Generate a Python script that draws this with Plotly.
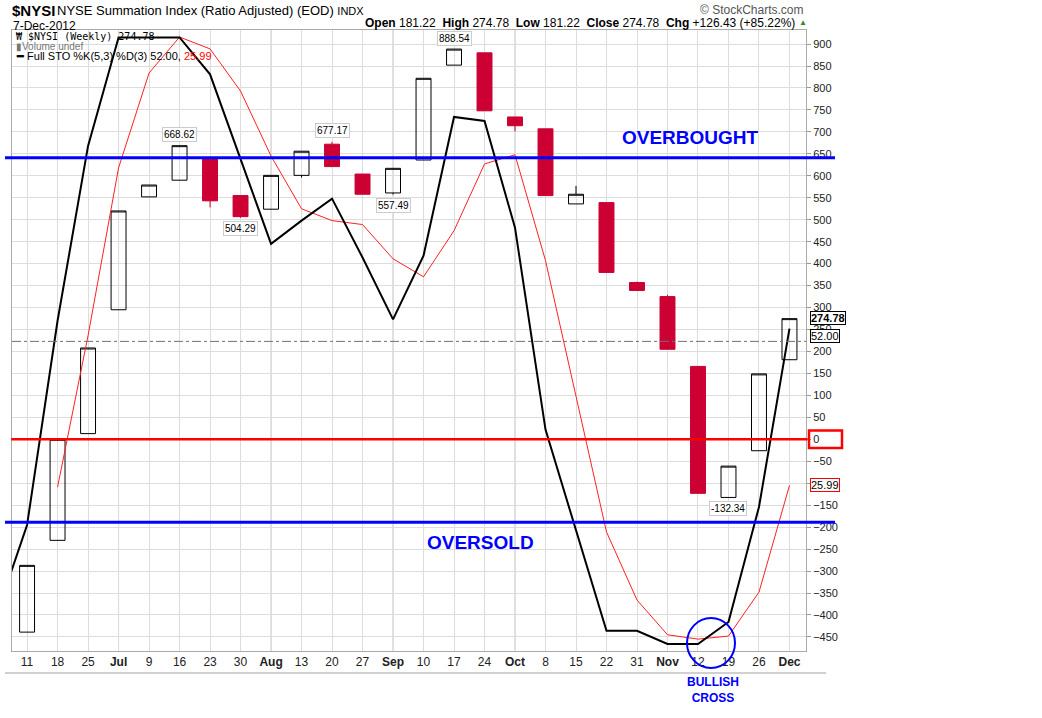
import plotly.graph_objects as go

# weekly candles for $NYSI, Jun - Dec 2012
weeks = ["2012-06-11", "2012-06-18", "2012-06-25", "2012-07-02", "2012-07-09", "2012-07-16",
         "2012-07-23", "2012-07-30", "2012-08-06", "2012-08-13", "2012-08-20", "2012-08-27",
         "2012-09-03", "2012-09-10", "2012-09-17", "2012-09-24", "2012-10-01", "2012-10-08",
         "2012-10-15", "2012-10-22", "2012-10-29", "2012-11-05", "2012-11-12", "2012-11-19",
         "2012-11-26", "2012-12-03"]
tick_labels = ["11", "18", "25", "<b>Jul</b>", "9", "16", "23", "30", "<b>Aug</b>", "13", "20", "27",
               "<b>Sep</b>", "10", "17", "24", "<b>Oct</b>", "8", "15", "22", "31", "<b>Nov</b>",
               "12", "19", "26", "<b>Dec</b>"]
month_starts = ["2012-07-02", "2012-08-06", "2012-09-03", "2012-10-01", "2012-11-05", "2012-12-03"]

opens = [-439, -230, 13, 295, 552, 590, 638, 555, 524, 601, 672, 604, 561, 636, 852, 880,
         734, 707, 536, 539, 357, 325, 166, -132.34, -26, 181.22]
closes = [-287, 0, 208, 520, 579, 668.62, 543, 507, 601, 656, 621, 558, 617, 822, 888.54, 748,
          714, 555, 558, 380, 339, 205, -123, -61, 149, 274.78]
highs = [-287, 0, 208, 520, 579, 668.62, 638, 555, 601, 656, 677.17, 604, 617, 822, 888.54, 880,
         734, 707, 577, 539, 359, 329, 166, -61, 149, 274.78]
lows = [-439, -230, 13, 295, 552, 590, 528, 504.29, 524, 596, 621, 558, 557.49, 636, 852, 748,
        701, 555, 536, 380, 339, 205, -123, -132.34, -26, 181.22]

# Full STO overlay, drawn on the price scale as it appears on the chart
sto_weeks = ["2012-06-04"] + weeks
pct_k = [-400, -195, 270, 668, 915, 915, 915, 831, 640, 445, 498, 548, 414, 273, 418, 734, 725,
         482, 22, -207, -436, -436, -466, -466, -416, -154, 252]
pct_d = [None, None, -109, 236, 618, 834, 916, 889, 793, 645, 525, 498, 489, 411, 370, 475, 627,
         648, 407, 95, -211, -366, -445, -455, -448, -348, -105]

# labelled highs / lows
callouts = [(5, 668.62, 1), (7, 504.29, -1), (10, 677.17, 1), (12, 557.49, -1), (14, 888.54, 1),
            (23, -132.34, -1)]

overbought = 641
oversold = -189
prev_level = 223

# plot area in page pixels (for placing texts around the chart)
L, R, T, B = 12, 806, 30, 651


def px(x):
    return (x - L) / (R - L)


def py(y):
    return (B - y) / (B - T)


def note(x, y, text, size, color="black", family=None, anchor="center"):
    return dict(x=px(x), y=py(y), xref="paper", yref="paper", xanchor=anchor, yanchor="middle",
                showarrow=False, text=text, font=dict(family=family or FONT, size=size, color=color))


FONT = "Liberation Sans, Arial, sans-serif"
NARROW = "Liberation Sans Narrow, Liberation Sans, Arial, sans-serif"
RED = "#CC0033"

fig = go.Figure()

fig.add_trace(go.Scatter(x=sto_weeks, y=pct_d, mode="lines", line=dict(color="#ff2020", width=1),
                         hoverinfo="skip", showlegend=False))
fig.add_trace(go.Scatter(x=sto_weeks, y=pct_k, mode="lines", line=dict(color="black", width=2),
                         hoverinfo="skip", showlegend=False))

fig.add_trace(go.Candlestick(
    x=weeks, open=opens, high=highs, low=lows, close=closes,
    increasing=dict(line=dict(color="black", width=1), fillcolor="rgba(255,255,255,0)"),
    decreasing=dict(line=dict(color=RED, width=1), fillcolor=RED),
    whiskerwidth=0, showlegend=False))

shapes = []
for m in month_starts:
    shapes.append(dict(type="line", xref="x", yref="paper", x0=m, x1=m, y0=0, y1=1,
                       line=dict(color="#c4c4c4", width=1), layer="below"))
shapes += [
    dict(type="line", xref="paper", yref="y", x0=0, x1=1, y0=prev_level, y1=prev_level,
         line=dict(color="#707070", width=1, dash="dashdot")),
    dict(type="line", xref="paper", yref="y", x0=-0.001, x1=1.002, y0=0, y1=0,
         line=dict(color="#ff0000", width=2.5)),
    dict(type="line", xref="paper", yref="y", x0=px(5), x1=px(835), y0=overbought, y1=overbought,
         line=dict(color="#0000ff", width=3)),
    dict(type="line", xref="paper", yref="y", x0=px(5), x1=px(835), y0=oversold, y1=oversold,
         line=dict(color="#0000ff", width=3)),
    dict(type="rect", xref="paper", yref="y", x0=px(809), x1=px(842), y0=-20, y1=20,
         line=dict(color="#ff0000", width=2.5)),
    dict(type="circle", xref="paper", yref="paper", x0=px(687), x1=px(735), y0=py(668), y1=py(618),
         line=dict(color="#0000ff", width=2)),
    dict(type="line", xref="paper", yref="paper", x0=px(5), x1=px(826), y0=py(673), y1=py(673),
         line=dict(color="#d0d0d0", width=2)),
]

ann = []
for i, v, side in callouts:
    ann.append(dict(x=weeks[i], y=v, xref="x", yref="y", text=f"{v:.2f}", showarrow=False,
                    yshift=11 * side, font=dict(family=FONT, size=10, color="black"),
                    bgcolor="white", bordercolor="#cccccc", borderwidth=1, borderpad=1))

# right axis tags
ann += [
    dict(x=1.0, y=274.78, xref="paper", yref="y", text="<b>274.78</b>", showarrow=False,
         xanchor="left", xshift=4, yshift=1, font=dict(family=FONT, size=11, color="black"),
         bgcolor="white", bordercolor="black", borderwidth=1, borderpad=0),
    dict(x=1.0, y=252, xref="paper", yref="y", text="52.00", showarrow=False,
         xanchor="left", xshift=4, yshift=-7, font=dict(family=FONT, size=11, color="black"),
         bgcolor="white", bordercolor="black", borderwidth=1, borderpad=0),
    dict(x=1.0, y=-105, xref="paper", yref="y", text="25.99", showarrow=False,
         xanchor="left", xshift=4, font=dict(family=FONT, size=11, color="black"),
         bgcolor="white", bordercolor="#ff0000", borderwidth=1, borderpad=0),
]

# big labels
ann += [
    note(690, 137, "<b>OVERBOUGHT</b>", 19, "#0000ff"),
    note(481, 542, "<b>OVERSOLD</b>", 19, "#0000ff"),
    note(713, 690, "<b>BULLISH<br>CROSS</b>", 12, "#0000ff", NARROW),
]

# header
ann += [
    note(10, 10, "<b>$NYSI</b>", 15, anchor="left"),
    note(55, 10, "NYSE Summation Index (Ratio Adjusted) (EOD) <span style='font-size:11px'>INDX</span>",
         13, anchor="left"),
    note(11, 26, "7-Dec-2012", 12, anchor="left"),
    note(797, 23, "<b>Open</b> 181.22  <b>High</b> 274.78  <b>Low</b> 181.22  <b>Close</b> 274.78  "
                  "<b>Chg</b> +126.43 (+85.22%)", 12, anchor="right"),
    note(803, 23, "▲", 8, "#2e8b2e"),
    note(806, 10, "© StockCharts.com", 12, "#555555", anchor="right"),
]

# in-chart legend
ann += [
    note(14, 36, "₩ $NYSI (Weekly) 274.78", 10, family="DejaVu Sans Mono", anchor="left"),
    note(14, 46, "▮Volume undef", 10, "#777777", anchor="left"),
    note(14, 56, "<b>━</b> Full STO %K(5,3) %D(3) 52.00, <span style='color:#ff0000'>25.99</span>",
         11, anchor="left"),
]

fig.update_layout(
    width=1042, height=718,
    margin=dict(l=L, r=1042 - R, t=T, b=718 - B),
    paper_bgcolor="white", plot_bgcolor="white",
    shapes=shapes, annotations=ann,
    font=dict(family=FONT, size=11, color="#222222"),
    xaxis=dict(type="date", range=["2012-06-07 13:00", "2012-12-06 19:00"],
               tickvals=weeks, ticktext=tick_labels, tickangle=0,
               tickfont=dict(family=NARROW, size=12, color="#222222"),
               showgrid=True, gridcolor="#dddddd", zeroline=False,
               showline=True, linecolor="#aaaaaa", mirror=True,
               rangeslider=dict(visible=False)),
    yaxis=dict(side="right", range=[-482, 932], dtick=50, tick0=0,
               showgrid=True, gridcolor="#dddddd", zeroline=False,
               showline=True, linecolor="#aaaaaa", mirror=True,
               ticks="outside", ticklen=4, tickcolor="#999999",
               tickfont=dict(family=FONT, size=11, color="#222222")),
    hovermode=False,
)

# the browser's default body margin would push the chart 8px down/right
fig.write_html("out.html", config={"displayModeBar": False},
               post_script="document.body.style.margin='0';")
